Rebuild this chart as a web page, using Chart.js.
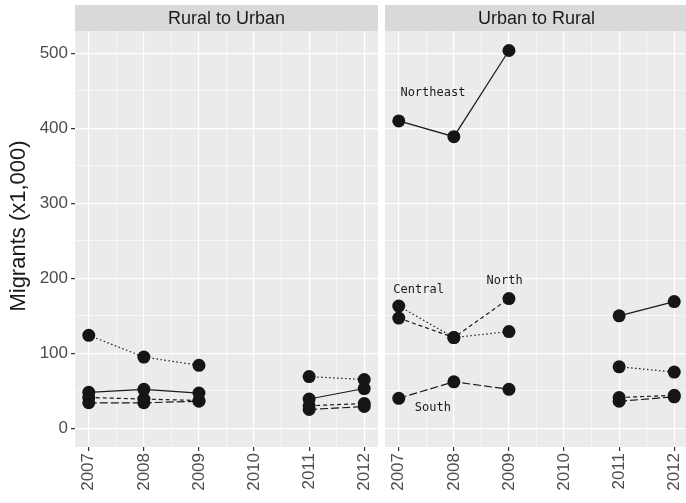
<!DOCTYPE html>
<html>
<head>
<meta charset="utf-8">
<script src="https://cdn.jsdelivr.net/npm/chart.js@4.4.1/dist/chart.umd.min.js"></script>
<style>
  body { margin: 0; background: #fff; overflow: hidden; width: 686px; height: 503px; position: relative; }
  .panel { position: absolute; top: 0; }
</style>
</head>
<body>
<div class="panel" style="left:0"><canvas id="ruralUrban" width="381" height="503"></canvas></div>
<div class="panel" style="left:385px"><canvas id="urbanRural" width="305" height="503"></canvas></div>
<script>
// Años (2010 sin datos)
const years = [2007, 2008, 2009, 2010, 2011, 2012];
const regions = ['Northeast', 'Central', 'North', 'South'];

// Rural to Urban (x1,000)
const ruNortheast = [48, 52, 47, null, 39, 53];
const ruCentral   = [124, 95, 84, null, 69, 65];
const ruNorth     = [41, 39, 37, null, 30, 33];
const ruSouth     = [34, 34, 36, null, 25, 29];

// Urban to Rural (x1,000)
const urNortheast = [410, 389, 504, null, 150, 169];
const urCentral   = [163, 121, 129, null, 82, 75];
const urNorth     = [147, 121, 173, null, 41, 44];
const urSouth     = [40, 62, 52, null, 36, 42];

// Etiquetas de región en el panel derecho
const labelText = ['Northeast', 'Central', 'North', 'South'];
const labelX = [2007.62, 2007.36, 2008.92, 2007.62];
const labelY = [448, 185, 197, 27];

const yTicks = [0, 50, 100, 150, 200, 250, 300, 350, 400, 450, 500];
const xTicks = [2007, 2007.5, 2008, 2008.5, 2009, 2009.5, 2010, 2010.5, 2011, 2011.5, 2012];

// Tipo de línea por región
const dashes = { Northeast: [], Central: [1.5, 2.5], North: [4, 3], South: [8, 3] };

const fuente = '"Liberation Sans", Arial, sans-serif';

function serie(nombre, valores) {
  return {
    label: nombre,
    data: years.map((x, i) => ({ x: x, y: valores[i] })),
    borderColor: '#1a1a1a',
    borderWidth: 1.2,
    borderDash: dashes[nombre],
    pointRadius: 6.5,
    pointBackgroundColor: '#151515',
    pointBorderWidth: 0,
    pointHoverRadius: 6.5,
    spanGaps: false,
    clip: false
  };
}

// Fondo gris del panel, franja del título y título del eje Y
const panelPlugin = {
  id: 'panelBg',
  beforeDraw(chart) {
    const { ctx, chartArea: a } = chart;
    const opts = chart.options.plugins.strip;
    ctx.save();
    ctx.fillStyle = '#EBEBEB';
    ctx.fillRect(a.left, a.top, a.right - a.left, a.bottom - a.top);
    ctx.fillStyle = '#D9D9D9';
    ctx.fillRect(a.left, 5, a.right - a.left, a.top - 5);
    ctx.fillStyle = '#1A1A1A';
    ctx.font = '18px ' + fuente;
    ctx.textAlign = 'center';
    ctx.textBaseline = 'middle';
    ctx.fillText(opts.text, (a.left + a.right) / 2, (a.top + 5) / 2 + 1);
    if (opts.yTitle) {
      // título centrado sobre panel + franja
      ctx.translate(19, (5 + a.bottom) / 2);
      ctx.rotate(-Math.PI / 2);
      ctx.font = '22px ' + fuente;
      ctx.fillText(opts.yTitle, 0, 0);
    }
    ctx.restore();
  }
};

// Nombres de región sobre el panel
const labelsPlugin = {
  id: 'regionLabels',
  afterDatasetsDraw(chart) {
    if (!chart.options.plugins.regionLabels.show) return;
    const { ctx, scales } = chart;
    ctx.save();
    ctx.fillStyle = '#1a1a1a';
    ctx.font = '12px "DejaVu Sans Mono", monospace';
    ctx.textAlign = 'center';
    ctx.textBaseline = 'middle';
    labelText.forEach((t, i) => {
      ctx.fillText(t, scales.x.getPixelForValue(labelX[i]), scales.y.getPixelForValue(labelY[i]));
    });
    ctx.restore();
  }
};

function crearPanel(id, titulo, datos, conEjeY, conEtiquetas) {
  return new Chart(document.getElementById(id), {
    type: 'line',
    data: { datasets: regions.map((r, i) => serie(r, datos[i])) },
    options: {
      responsive: false,
      animation: false,
      devicePixelRatio: 1,
      layout: { autoPadding: false, padding: { top: 31, right: conEjeY ? 3 : 2, left: 0, bottom: 0 } },
      plugins: {
        legend: { display: false },
        tooltip: { enabled: false },
        strip: { text: titulo, yTitle: conEjeY ? 'Migrants (x1,000)' : null },
        regionLabels: { show: conEtiquetas }
      },
      scales: {
        x: {
          type: 'linear',
          min: 2006.75,
          max: 2012.25,
          afterBuildTicks: s => { s.ticks = xTicks.map(v => ({ value: v })); },
          afterFit: s => { s.height = 56; s.paddingLeft = 0; s.paddingRight = 0; },
          border: { display: false },
          grid: {
            color: '#FFFFFF',
            lineWidth: c => Number.isInteger(c.tick.value) ? 1.2 : 0.6,
            tickColor: c => Number.isInteger(c.tick.value) ? '#333333' : 'rgba(0,0,0,0)',
            tickLength: 4
          },
          ticks: {
            autoSkip: false,
            maxRotation: 90,
            minRotation: 90,
            padding: 2,
            color: '#4D4D4D',
            font: { family: fuente, size: 17 },
            callback: v => Number.isInteger(v) ? String(v) : ''
          }
        },
        y: {
          type: 'linear',
          min: -25,
          max: 530,
          afterBuildTicks: s => { s.ticks = yTicks.map(v => ({ value: v })); },
          afterFit: s => { s.width = conEjeY ? 75 : 0; s.paddingTop = 0; s.paddingBottom = 0; },
          border: { display: false },
          grid: {
            color: '#FFFFFF',
            lineWidth: c => c.tick.value % 100 === 0 ? 1.2 : 0.6,
            tickColor: c => (conEjeY && c.tick.value % 100 === 0) ? '#333333' : 'rgba(0,0,0,0)',
            tickLength: conEjeY ? 4 : 0
          },
          ticks: {
            display: conEjeY,
            padding: 3,
            color: '#4D4D4D',
            font: { family: fuente, size: 17 },
            callback: v => v % 100 === 0 ? String(v) : ''
          }
        }
      }
    },
    plugins: [panelPlugin, labelsPlugin]
  });
}

crearPanel('ruralUrban', 'Rural to Urban', [ruNortheast, ruCentral, ruNorth, ruSouth], true, false);
crearPanel('urbanRural', 'Urban to Rural', [urNortheast, urCentral, urNorth, urSouth], false, true);
</script>
</body>
</html>
